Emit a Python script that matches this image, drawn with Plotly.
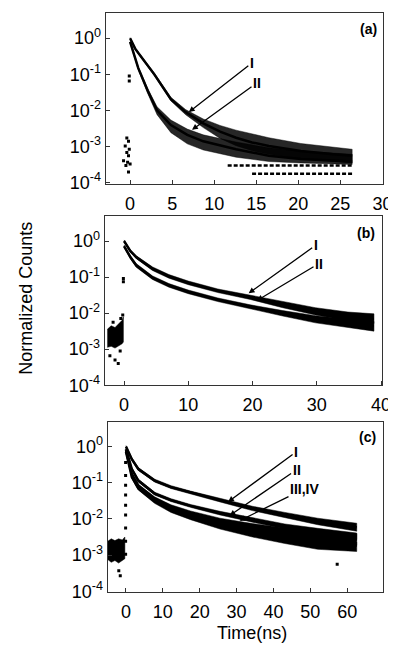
import numpy as np
import plotly.graph_objects as go

# ---------------- data (log10 of normalized counts) ----------------
# Panel (a)
a_I_t  = [0, 0.6, 1.0, 1.74, 2.9, 4.85, 6.6, 8.7, 10.7, 12.6, 14.5, 16.5, 20.3, 24.2, 26.4]
a_I_c  = [0, -0.29, -0.42, -0.65, -1.01, -1.69, -2.05, -2.36, -2.59, -2.76, -2.89, -2.99, -3.13, -3.22, -3.26]
a_I_hi = [0.02, -0.26, -0.39, -0.62, -0.97, -1.64, -1.98, -2.24, -2.42, -2.55, -2.66, -2.76, -2.92, -3.03, -3.08]
a_I_lo = [-0.03, -0.32, -0.45, -0.68, -1.05, -1.74, -2.12, -2.48, -2.78, -2.98, -3.12, -3.22, -3.35, -3.42, -3.46]
a_II_t  = [0, 0.5, 0.97, 2.1, 3.2, 4.85, 6.8, 8.7, 12.6, 16.5, 20.3, 26.4]
a_II_c  = [-0.1, -0.5, -0.83, -1.46, -2.0, -2.41, -2.68, -2.86, -3.08, -3.26, -3.35, -3.42]
a_II_hi = [-0.07, -0.46, -0.79, -1.40, -1.90, -2.27, -2.52, -2.68, -2.88, -3.04, -3.13, -3.22]
a_II_lo = [-0.13, -0.54, -0.88, -1.54, -2.12, -2.62, -2.93, -3.10, -3.30, -3.42, -3.46, -3.50]
a_floor1_t = [11.6, 26.4]
a_floor1 = [-3.53, -3.53]
a_floor2_t = [14.5, 26.4]
a_floor2 = [-3.76, -3.76]
a_pre_t = [-0.39, -0.19, -0.58, -0.1, -0.39, -0.19, -0.78, -0.3, 0.0, -0.5, -0.19, -0.1, -0.1]
a_pre   = [-2.77, -2.86, -2.99, -3.08, -3.17, -3.26, -3.40, -3.44, -3.49, -3.53, -3.71, -1.05, -1.19]

# Panel (b)
b_t     = [0, 1.0, 1.92, 4.45, 6.99, 10.0, 14.6, 19.65, 24.7, 29.8, 34.85, 38.9]
b_I_c   = [0, -0.28, -0.45, -0.77, -0.98, -1.16, -1.38, -1.56, -1.77, -1.95, -2.09, -2.16]
b_I_hi  = [0.03, -0.25, -0.41, -0.72, -0.93, -1.11, -1.33, -1.50, -1.69, -1.85, -1.97, -2.02]
b_I_lo  = [-0.03, -0.31, -0.49, -0.82, -1.03, -1.21, -1.43, -1.62, -1.85, -2.05, -2.21, -2.29]
b_II_c  = [-0.14, -0.45, -0.68, -1.02, -1.23, -1.41, -1.63, -1.83, -2.00, -2.16, -2.27, -2.36]
b_II_hi = [-0.11, -0.41, -0.63, -0.97, -1.18, -1.36, -1.58, -1.77, -1.93, -2.07, -2.16, -2.23]
b_II_lo = [-0.17, -0.49, -0.73, -1.07, -1.28, -1.46, -1.68, -1.89, -2.08, -2.27, -2.39, -2.50]
b_pre_t  = [-2.6, -2.0, -1.4, -0.8, -0.3, -0.1]
b_pre_hi = [-2.45, -2.35, -2.40, -2.30, -2.20, -2.10]
b_pre_lo = [-2.95, -2.92, -2.97, -2.90, -2.85, -2.80]
b_out_t = [-2.2, -1.4, -0.9, -1.7, -0.5, -0.1, -0.1, -0.2, -0.6]
b_out   = [-3.18, -3.30, -3.40, -2.25, -2.15, -1.04, -1.13, -2.05, -3.05]

# Panel (c)
c_t      = [0, 1.59, 3.35, 7.77, 12.2, 17.5, 25.5, 34.3, 43.1, 52.0, 62.6]
c_I_c    = [0, -0.35, -0.62, -0.94, -1.12, -1.27, -1.48, -1.71, -1.89, -2.07, -2.23]
c_I_hi   = [0.03, -0.31, -0.58, -0.90, -1.08, -1.23, -1.43, -1.65, -1.82, -1.98, -2.12]
c_I_lo   = [-0.03, -0.39, -0.66, -0.98, -1.16, -1.31, -1.53, -1.77, -1.96, -2.16, -2.34]
c_II_c   = [-0.07, -0.62, -0.94, -1.30, -1.48, -1.64, -1.84, -2.03, -2.21, -2.34, -2.48]
c_II_hi  = [-0.04, -0.58, -0.90, -1.26, -1.44, -1.60, -1.79, -1.97, -2.14, -2.26, -2.39]
c_II_lo  = [-0.10, -0.66, -0.98, -1.34, -1.52, -1.68, -1.89, -2.09, -2.28, -2.42, -2.57]
c_III_c  = [-0.10, -0.76, -1.08, -1.44, -1.66, -1.84, -2.06, -2.24, -2.38, -2.50, -2.58]
c_III_hi = [-0.07, -0.72, -1.04, -1.39, -1.61, -1.78, -1.98, -2.13, -2.25, -2.35, -2.41]
c_III_lo = [-0.13, -0.80, -1.12, -1.49, -1.72, -1.91, -2.14, -2.33, -2.49, -2.63, -2.73]
c_IV_c   = [-0.14, -0.84, -1.16, -1.52, -1.76, -1.94, -2.18, -2.36, -2.50, -2.64, -2.74]
c_IV_hi  = [-0.11, -0.80, -1.12, -1.47, -1.70, -1.88, -2.10, -2.28, -2.42, -2.55, -2.64]
c_IV_lo  = [-0.17, -0.88, -1.20, -1.57, -1.82, -2.02, -2.28, -2.50, -2.68, -2.84, -2.90]
c_pre_t  = [-4.95, -4.0, -3.0, -2.0, -1.0, -0.3]
c_pre_hi = [-2.62, -2.55, -2.60, -2.55, -2.58, -2.50]
c_pre_lo = [-3.12, -3.20, -3.15, -3.22, -3.15, -3.10]
c_edge_t = [-0.1, -0.1, -0.1, -0.1, -0.1, -0.1, -0.1, -0.1, -0.1, -1.95, -1.55, 57.3]
c_edge   = [-2.98, -2.62, -2.25, -1.89, -1.62, -1.34, -1.07, -0.80, -0.44, -3.43, -3.57, -3.25]

# axis ticks
y_tickvals = [1, 1e-1, 1e-2, 1e-3, 1e-4]
y_ticktext = ["10<sup>0</sup>", "10<sup>-1</sup>", "10<sup>-2</sup>", "10<sup>-3</sup>", "10<sup>-4</sup>"]
a_xticks = [0, 5, 10, 15, 20, 25, 30]
b_xticks = [0, 10, 20, 30, 40]
c_xticks = [0, 10, 20, 30, 40, 50, 60, 70]

FONT = "Liberation Sans, Arial, sans-serif"
fig = go.Figure()


def p10(v):
    return list(np.power(10.0, np.array(v, dtype=float)))


def band(t, hi, lo, xa, ya, color="black"):
    xs = list(t) + list(t)[::-1]
    ys = p10(hi) + p10(lo)[::-1]
    fig.add_trace(go.Scatter(x=xs, y=ys, fill="toself", fillcolor=color,
                             line=dict(color=color, width=0.5), mode="lines",
                             xaxis=xa, yaxis=ya, showlegend=False, hoverinfo="skip"))


def core(t, c, xa, ya, width=2.5):
    fig.add_trace(go.Scatter(x=t, y=p10(c), mode="lines",
                             line=dict(color="black", width=width),
                             xaxis=xa, yaxis=ya, showlegend=False, hoverinfo="skip"))


def pts(t, v, xa, ya, size=3):
    fig.add_trace(go.Scatter(x=t, y=p10(v), mode="markers",
                             marker=dict(color="black", size=size, symbol="square"),
                             xaxis=xa, yaxis=ya, showlegend=False, hoverinfo="skip"))


def hline(t, v, xa, ya):
    fig.add_trace(go.Scatter(x=t, y=p10(v), mode="lines",
                             line=dict(color="black", width=2.5, dash="4px,2px"),
                             xaxis=xa, yaxis=ya, showlegend=False, hoverinfo="skip"))


NOISE = "rgba(0,0,0,0.85)"
# panel (a)
band(a_I_t, a_I_hi, a_I_lo, "x", "y", NOISE)
band(a_II_t, a_II_hi, a_II_lo, "x", "y", NOISE)
core(a_I_t, a_I_c, "x", "y")
core(a_II_t, a_II_c, "x", "y")
hline(a_floor1_t, a_floor1, "x", "y")
hline(a_floor2_t, a_floor2, "x", "y")
pts(a_pre_t, a_pre, "x", "y")

# panel (b)
band(b_t, b_I_hi, b_I_lo, "x2", "y2")
band(b_t, b_II_hi, b_II_lo, "x2", "y2")
core(b_t, b_I_c, "x2", "y2")
core(b_t, b_II_c, "x2", "y2")
band(b_pre_t, b_pre_hi, b_pre_lo, "x2", "y2")
pts(b_out_t, b_out, "x2", "y2")

# panel (c)
band(c_t, c_I_hi, c_I_lo, "x3", "y3")
band(c_t, c_II_hi, c_II_lo, "x3", "y3")
band(c_t, c_III_hi, c_III_lo, "x3", "y3")
band(c_t, c_IV_hi, c_IV_lo, "x3", "y3")
core(c_t, c_I_c, "x3", "y3")
core(c_t, c_II_c, "x3", "y3")
core(c_t, c_III_c, "x3", "y3")
core(c_t, c_IV_c, "x3", "y3")
band(c_pre_t, c_pre_hi, c_pre_lo, "x3", "y3")
pts(c_edge_t, c_edge, "x3", "y3")

axis_common = dict(showline=True, linecolor="#333", linewidth=1.2, mirror=True,
                   ticks="inside", ticklen=4, tickcolor="#333", showgrid=False,
                   zeroline=False, ticklabeloverflow="allow",
                   tickfont=dict(family=FONT, size=18, color="black"))

XSO = 3
YSO = 0
fig.update_layout(
    width=396, height=658, autosize=False,
    margin=dict(l=0, r=0, t=0, b=0),
    paper_bgcolor="white", plot_bgcolor="white",
    xaxis=dict(domain=[0.2525, 0.9697], range=[-2.9, 30.1], anchor="y",
               tickvals=a_xticks, ticklabelstandoff=XSO, **axis_common),
    yaxis=dict(domain=[0.7280, 0.9924], type="log", range=[-4.05, 0.70], anchor="x",
               tickvals=y_tickvals, ticktext=y_ticktext, ticklabelstandoff=YSO, **axis_common),
    xaxis2=dict(domain=[0.25, 0.9672], range=[-3.0, 40.2], anchor="y2",
                tickvals=b_xticks, ticklabelstandoff=XSO, **axis_common),
    yaxis2=dict(domain=[0.4179, 0.6793], type="log", range=[-4.0, 0.70], anchor="x2",
                tickvals=y_tickvals, ticktext=y_ticktext, ticklabelstandoff=YSO, **axis_common),
    xaxis3=dict(domain=[0.2576, 0.9697], range=[-4.96, 69.8], anchor="y3",
                tickvals=c_xticks, ticklabelstandoff=XSO, **axis_common),
    yaxis3=dict(domain=[0.0988, 0.3617], type="log", range=[-4.02, 0.69], anchor="x3",
                tickvals=y_tickvals, ticktext=y_ticktext, ticklabelstandoff=YSO, **axis_common),
)

ann = []
lab_font = dict(family=FONT, size=14, color="black")
# arrows: (text, x, y_log, ax_px, ay_px, xref, yref)
arrows = [
    ("<b>I</b>", 6.98, -2.05, 63, -49, "x", "y"),
    ("<b>II</b>", 7.36, -2.54, 65, -47, "x", "y"),
    ("<b>I</b>", 19.4, -1.45, 67, -48, "x2", "y2"),
    ("<b>II</b>", 20.7, -1.65, 62, -37, "x2", "y2"),
    ("<b>I</b>", 27.7, -1.53, 68, -50, "x3", "y3"),
    ("<b>II</b>", 28.1, -1.91, 67, -46, "x3", "y3"),
    ("<b>III,IV</b>", 30.8, -2.05, 65, -32, "x3", "y3"),
]
for txt, x, y, ax, ay, xr, yr in arrows:
    ann.append(dict(text=txt, x=x, y=y, xref=xr, yref=yr, ax=ax, ay=ay,
                    showarrow=True, arrowhead=2, arrowsize=0.9, arrowwidth=1.3,
                    arrowcolor="black", font=lab_font))

for txt, x, y in [("(a)", 0.932, 0.968), ("(b)", 0.924, 0.6535), ("(c)", 0.929, 0.3374)]:
    ann.append(dict(text="<b>" + txt + "</b>", x=x, y=y, xref="paper", yref="paper",
                    xanchor="center", yanchor="middle",
                    showarrow=False, font=dict(family=FONT, size=14, color="black")))

ann.append(dict(text="Normalized Counts", x=0.047, y=0.5517, xref="paper", yref="paper",
                xanchor="center", yanchor="middle",
                showarrow=False, textangle=-90, font=dict(family=FONT, size=18, color="black")))
ann.append(dict(text="Time(ns)", x=0.631, y=0.035, xref="paper", yref="paper",
                xanchor="center", yanchor="middle",
                showarrow=False, font=dict(family=FONT, size=18, color="black")))

fig.update_layout(annotations=ann)
fig.write_html("out.html")
